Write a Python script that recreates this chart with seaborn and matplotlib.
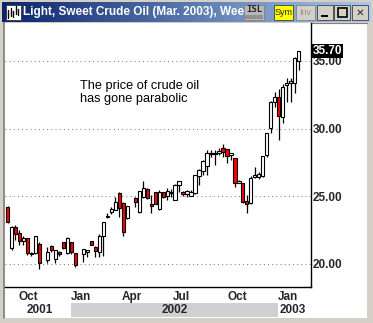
import numpy as np
import pandas as pd
import matplotlib
matplotlib.use("Agg")
import matplotlib.pyplot as plt
import seaborn as sns
from matplotlib.patches import Rectangle
from matplotlib.colors import LinearSegmentedColormap
import matplotlib.transforms as mtransforms

# ---------------- data (weekly OHLC, NaN = empty week slot) ----------------
nan = np.nan
opens = [24.2, 21.2, 22.7, 22.3, 21.7, 21.9, 20.8, 20.8, 21.5, nan,
         20.3, 21.3, 20.4, 20.9, 21.6, 20.8, 21.6, 20.8, nan,
         20.75, 20.9, 21.7, 21.25, 20.9, 22.1, 23.5, 23.85, 24.0, 25.25, 24.5, 23.4, nan,
         24.9, 23.85, 24.95, 25.55, 24.45, 25.3, 24.05, 25.3, 25.0, 25.3, 24.75, 25.85,
         25.3, 25.15, 25.0, 25.25, 26.5, 26.85, 27.25, 28.2, 28.2, 28.2, 28.55, 28.5,
         28.05, 27.8, 26.0, 26.0, 24.65, 24.5, 26.4, 26.45, 26.5, 28.05, 30.05, 31.95,
         32.3, 30.85, 33.2, 33.35, 33.35, 35.0]
highs = [24.25, 22.8, 22.9, 22.5, 22.1, 21.95, 20.9, 22.1, 21.6, nan,
         21.25, 21.4, 21.05, 20.95, 21.65, 22.0, 21.6, 20.8, nan,
         21.1, 21.0, 21.7, 21.3, 22.2, 23.1, 23.8, 24.2, 24.95, 25.3, 24.6, 24.3, nan,
         24.95, 25.4, 26.1, 25.6, 25.1, 25.35, 25.45, 25.35, 25.6, 25.5, 25.9, 26.15,
         25.4, 25.45, 25.45, 26.6, 27.0, 27.65, 28.4, 28.4, 28.4, 28.55, 28.85, 28.5,
         28.2, 27.8, 26.2, 26.0, 25.1, 26.5, 27.15, 26.8, 28.0, 29.7, 32.0, 32.7,
         32.9, 33.3, 33.7, 33.7, 35.25, 35.75]
lows = [23.05, 21.0, 21.8, 21.4, 21.4, 20.65, 20.6, 20.7, 19.6, nan,
        20.1, 20.9, 20.1, 20.6, 21.1, 20.7, 20.75, 19.8, nan,
        20.15, 20.5, 21.4, 20.5, 20.5, 20.6, 23.4, 23.7, 23.95, 23.5, 22.1, 23.3, nan,
        24.2, 23.8, 24.9, 24.8, 23.8, 24.4, 24.0, 24.9, 24.7, 24.95, 24.7, 25.3,
        25.0, 24.95, 25.0, 25.2, 25.85, 26.55, 26.55, 27.9, 27.3, 28.05, 27.9, 27.45,
        27.7, 25.7, 25.95, 24.5, 23.75, 24.45, 26.35, 26.3, 26.45, 27.9, 29.65, 31.6,
        29.15, 30.4, 31.95, 31.95, 32.6, 34.3]
closes = [23.1, 22.7, 22.2, 21.7, 21.9, 20.8, 20.7, 22.1, 20.1, nan,
          20.9, 21.0, 21.0, 20.7, 21.2, 21.9, 20.9, 19.9, nan,
          21.1, 21.0, 21.4, 20.95, 22.1, 23.1, 23.55, 24.05, 24.6, 24.1, 22.35, 24.3, nan,
          24.6, 25.4, 25.6, 24.85, 24.3, 24.45, 25.3, 24.95, 25.4, 25.25, 25.85, 26.1,
          25.15, 25.4, 25.3, 26.55, 26.95, 27.6, 28.2, 28.15, 28.15, 28.35, 28.25, 28.0,
          28.2, 26.0, 26.1, 24.6, 24.45, 26.35, 26.55, 26.65, 27.95, 29.65, 31.95, 32.3,
          30.9, 33.05, 33.35, 33.5, 35.2, 35.7]

month_labels = ["Oct", "Jan", "Apr", "Jul", "Oct", "Jan"]
month_pos = [5.1, 18.4, 31.2, 43.7, 57.5, 70.3]
year_labels = ["2001", "2002", "2003"]
year_pos = [8.1, 42.0, 71.5]
price_ticks = [20, 25, 30, 35]
last_price = 35.70
title_text = "Light, Sweet Crude Oil (Mar. 2003), Wee"
note_text = "The price of crude oil\nhas gone parabolic"

df = pd.DataFrame({"open": opens, "high": highs, "low": lows, "close": closes})
df["week"] = np.arange(len(df))
df = df.dropna()

# ---------------- style ----------------
sns.set_style("white")
plt.rcParams["font.family"] = ["Liberation Sans", "DejaVu Sans"]

W, H = 373, 323
fig = plt.figure(figsize=(W / 100, H / 100), dpi=100, facecolor="#d4d0c8")


def frect(x0, y0, x1, y1, z=1, **kw):
    r = Rectangle((x0 / W, 1 - y1 / H), (x1 - x0) / W, (y1 - y0) / H,
                  transform=fig.transFigure, figure=fig, zorder=z, **kw)
    fig.patches.append(r)
    return r


def ftext(x, y, s, **kw):
    return fig.text(x / W, 1 - y / H, s, **kw)


# white panel with sunken border (behind everything)
frect(5, 23, 367, 318, z=-2, facecolor="white", edgecolor="none")
fig.lines.append(plt.Line2D([4 / W, 4 / W], [1 - 318 / H, 1 - 22 / H],
                            transform=fig.transFigure, color="#808080", lw=1.2, zorder=-1))
fig.lines.append(plt.Line2D([4 / W, 367 / W], [1 - 22.5 / H, 1 - 22.5 / H],
                            transform=fig.transFigure, color="#808080", lw=0.8, zorder=-1))
# year band
frect(71, 303, 278, 317, z=-1, facecolor="#d0d0d0", edgecolor="none")

# title bar gradient
tax = fig.add_axes([2 / W, 1 - 22 / H, 369 / W, 20 / H])
tax.set_zorder(2)
cmap = LinearSegmentedColormap.from_list("tb", ["#0a246a", "#a6caf0"])
tax.imshow(np.linspace(0, 1, 256)[None, :], aspect="auto", cmap=cmap,
           extent=[0, 1, 0, 1])
tax.set_xlim(0, 1)
tax.set_ylim(0, 1)
tax.set_axis_off()
tax.text(21 / 369, 0.5, title_text, color="white", fontsize=8.5,
         fontweight="bold", va="center", ha="left", transform=tax.transAxes)

# icon
frect(6, 5, 21, 20, z=6, facecolor="white", edgecolor="#404040", lw=0.7)
for xx, (a, b) in zip([8, 10.5, 13, 15.5, 18], [(10, 18), (8, 16), (11, 17), (6, 14), (9, 15)]):
    fig.lines.append(plt.Line2D([xx / W, xx / W], [1 - b / H, 1 - a / H],
                                transform=fig.transFigure, color="black", lw=1.0, zorder=7))

# buttons
frect(244, 5, 264, 20, z=6, facecolor="#b8b8b8", edgecolor="#808080", lw=0.6)
frect(245, 15, 263, 19, z=7, facecolor="#909090", edgecolor="none")
ftext(254.5, 10, "ISL", fontsize=6.5, fontweight="bold", ha="center", va="center",
      family="DejaVu Sans Mono", zorder=8)
frect(274, 5, 293, 20, z=6, facecolor="#ffff00", edgecolor="#404040", lw=0.6)
ftext(283.5, 12.5, "Sym", fontsize=6.5, ha="center", va="center", zorder=8)
frect(296, 5, 315, 20, z=6, facecolor="#d4d0c8", edgecolor="#808080", lw=0.6)
ftext(305.5, 12.5, "Inv", fontsize=6.5, ha="center", va="center", color="#909090", zorder=8)
for bx0, bx1 in [(317, 333), (334, 350), (352, 368)]:
    frect(bx0, 5, bx1, 20, z=6, facecolor="#d4d0c8", edgecolor="#404040", lw=0.6)
frect(321, 15, 328, 16.5, z=8, facecolor="black", edgecolor="none")
frect(337.5, 8, 346.5, 17, z=8, facecolor="none", edgecolor="black", lw=1.2)
ftext(360, 12.5, "✕", fontsize=7.5, fontweight="bold", ha="center", va="center",
      family="DejaVu Sans", zorder=8)

# ---------------- main axes ----------------
ax = fig.add_axes([5 / W, 1 - 287 / H, 306 / W, 264 / H])
ax.set_zorder(3)
ax.set_facecolor("white")
ax.set_xlim(-0.63, 76.07)
ax.set_ylim(18.30, 37.79)

for t in price_ticks:
    ax.axhline(t, color="#808080", lw=0.75, ls=(0, (1, 3)), zorder=0)

ax.vlines(df["week"], df["low"], df["high"], color="black", lw=0.9, zorder=2)
up = df["close"] >= df["open"]
body_lo = np.minimum(df["open"], df["close"])
body_h = (df["close"] - df["open"]).abs()
colors = np.where(up, "white", "#ff0000")
ax.bar(df["week"], body_h, bottom=body_lo, width=0.8, color=colors,
       edgecolor="black", linewidth=0.8, zorder=3)

ax.text((80 - 5) / 306, 1 - (80 - 23) / 264, note_text, transform=ax.transAxes,
        fontsize=9.2, ha="left", va="top", linespacing=1.15, color="black")

for s in ["left", "top"]:
    ax.spines[s].set_visible(False)
for s in ["right", "bottom"]:
    ax.spines[s].set_color("black")
    ax.spines[s].set_linewidth(1.0)

ax.yaxis.tick_right()
ax.set_yticks(price_ticks)
ax.set_yticklabels([f"{t:.2f}" for t in price_ticks], fontsize=8.5, fontweight="bold")
ax.tick_params(axis="y", length=0, pad=1.5)
ax.set_xticks(month_pos)
ax.set_xticklabels(month_labels, fontsize=8.5, fontweight="bold")
ax.tick_params(axis="x", length=0, pad=3)

ax.text(1.0, last_price, f"{last_price:.2f}",
        transform=mtransforms.blended_transform_factory(ax.transAxes, ax.transData)
        + mtransforms.ScaledTranslation(2 / 100, 0, fig.dpi_scale_trans),
        fontsize=8.5, fontweight="bold", color="white", ha="left", va="center",
        bbox=dict(boxstyle="square,pad=0.08", facecolor="black", edgecolor="none"),
        zorder=10, clip_on=False)

trans = mtransforms.blended_transform_factory(ax.transData, fig.transFigure)
for lab, p in zip(year_labels, year_pos):
    ax.text(p, 1 - 310 / H, lab, transform=trans, fontsize=8.5, fontweight="bold",
            ha="center", va="center", clip_on=False)

fig.savefig("out.png", dpi=100, facecolor=fig.get_facecolor())
